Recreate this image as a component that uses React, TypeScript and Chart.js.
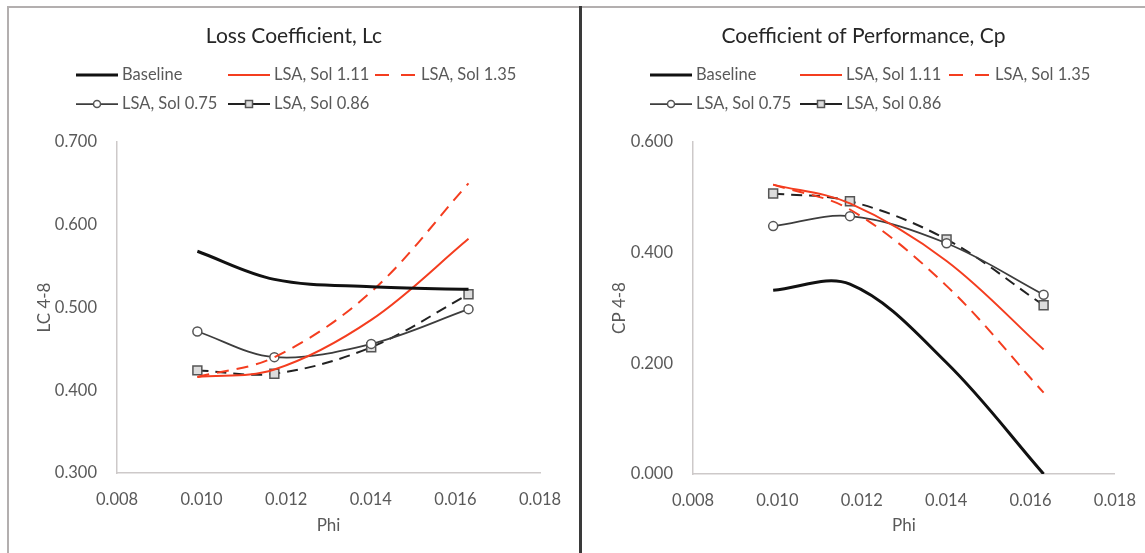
import React, { useEffect, useRef } from "react";
import { Chart, registerables } from "chart.js";

Chart.register(...registerables);

// ---------- data ----------
const phi = [0.0099, 0.01172, 0.01401, 0.01631];
const xTickValues = [0.008, 0.01, 0.012, 0.014, 0.016, 0.018];
const lcTickValues = [0.3, 0.4, 0.5, 0.6, 0.7];
const cpTickValues = [0.0, 0.2, 0.4, 0.6];

const seriesLabels = ["Baseline", "LSA, Sol 1.11", "LSA, Sol 1.35", "LSA, Sol 0.75", "LSA, Sol 0.86"];

const lcBaseline = [0.568, 0.534, 0.525, 0.522];
const lcSol111 = [0.416, 0.425, 0.485, 0.583];
const lcSol135 = [0.416, 0.44, 0.519, 0.65];
const lcSol075 = [0.471, 0.44, 0.456, 0.498];
const lcSol086 = [0.424, 0.42, 0.452, 0.516];

const cpBaseline = [0.332, 0.343, 0.201, 0.0];
const cpSol111 = [0.523, 0.489, 0.385, 0.225];
const cpSol135 = [0.523, 0.478, 0.34, 0.147];
const cpSol075 = [0.448, 0.466, 0.417, 0.324];
const cpSol086 = [0.507, 0.493, 0.424, 0.305];

// ---------- styles ----------
const FONT = "Lato, 'Open Sans', 'DejaVu Sans', sans-serif";
const TEXT = "#595959";
const AXIS = "#cdc9c9";
const RED = "#f43d1f";

const styles = [
  { borderColor: "#111111", borderWidth: 3, borderDash: [], pointRadius: 0, pointStyle: "circle", pointBackgroundColor: "#fff", pointBorderColor: "#111", pointBorderWidth: 1 },
  { borderColor: RED, borderWidth: 2, borderDash: [], pointRadius: 0, pointStyle: "circle", pointBackgroundColor: "#fff", pointBorderColor: RED, pointBorderWidth: 1 },
  { borderColor: RED, borderWidth: 2, borderDash: [12, 8], pointRadius: 0, pointStyle: "circle", pointBackgroundColor: "#fff", pointBorderColor: RED, pointBorderWidth: 1 },
  { borderColor: "#3d3d3d", borderWidth: 1.75, borderDash: [], pointRadius: 4.5, pointStyle: "circle", pointBackgroundColor: "#ffffff", pointBorderColor: "#555555", pointBorderWidth: 1.5 },
  { borderColor: "#222222", borderWidth: 2, borderDash: [11, 7], pointRadius: 6.3, pointStyle: "rect", pointBackgroundColor: "#dcdcdc", pointBorderColor: "#555555", pointBorderWidth: 1.5 },
];

const legendDash: Record<number, number[]> = { 2: [14, 12], 4: [] };

const gridLegend = {
  id: "gridLegend",
  afterDraw(chart: any, _args: any, opts: any) {
    const ctx = chart.ctx as CanvasRenderingContext2D;
    const items = opts.items || [];
    items.forEach((it: any) => {
      const ds = chart.data.datasets[it.index];
      ctx.save();
      ctx.strokeStyle = ds.borderColor;
      ctx.lineWidth = ds.borderWidth;
      ctx.setLineDash(legendDash[it.index] ?? ds.borderDash ?? []);
      ctx.beginPath();
      ctx.moveTo(it.x, it.y);
      ctx.lineTo(it.x + opts.sampleWidth, it.y);
      ctx.stroke();
      ctx.setLineDash([]);
      if (ds.pointRadius > 0) {
        const cx = it.x + opts.sampleWidth / 2;
        ctx.fillStyle = ds.pointBackgroundColor;
        ctx.strokeStyle = ds.pointBorderColor;
        ctx.lineWidth = ds.pointBorderWidth;
        if (ds.pointStyle === "rect") {
          const s = 3.5;
          ctx.fillRect(cx - s, it.y - s, 2 * s, 2 * s);
          ctx.strokeRect(cx - s, it.y - s, 2 * s, 2 * s);
        } else {
          ctx.beginPath();
          ctx.arc(cx, it.y, 3.5, 0, Math.PI * 2);
          ctx.fill();
          ctx.stroke();
        }
      }
      ctx.font = `16.5px ${FONT}`;
      ctx.fillStyle = TEXT;
      ctx.textBaseline = "middle";
      ctx.textAlign = "left";
      ctx.fillText(ds.label, it.x + opts.sampleWidth + 4, it.y);
      ctx.restore();
    });
  },
};

type PanelProps = {
  width: number;
  height: number;
  title: string;
  yTitle: string;
  series: number[][];
  yTicks: number[];
  yTitleOffset: number;
  padRight: number;
  yAxisWidth: number;
  xAxisHeight: number;
  legendCols: number[];
};

function Panel(p: PanelProps) {
  const ref = useRef<HTMLCanvasElement | null>(null);
  useEffect(() => {
    if (!ref.current) return;
    const datasets = p.series.map((vals, i) => ({
      label: seriesLabels[i],
      data: vals.map((v, j) => ({ x: phi[j], y: v })),
      tension: 0.35,
      fill: false,
      ...styles[i],
    }));
    const rows = [66, 95];
    const legendItems = [
      { index: 0, x: p.legendCols[0], y: rows[0] },
      { index: 1, x: p.legendCols[1], y: rows[0] },
      { index: 2, x: p.legendCols[2], y: rows[0] },
      { index: 3, x: p.legendCols[0], y: rows[1] },
      { index: 4, x: p.legendCols[1], y: rows[1] },
    ];
    const chart = new Chart(ref.current, {
      type: "line",
      data: { datasets } as any,
      plugins: [gridLegend as any],
      options: {
        responsive: false,
        animation: false,
        devicePixelRatio: 1,
        events: [],
        layout: { padding: { left: 0, right: 0, top: 0, bottom: 13 } },
        plugins: {
          legend: { display: false },
          tooltip: { enabled: false },
          title: {
            display: true,
            text: p.title,
            color: "#262626",
            font: { family: FONT, size: 21, weight: "normal", lineHeight: 1.2 },
            padding: { top: 14.4, bottom: 133 - 14.4 - 25.2 },
          },
          gridLegend: { items: legendItems, sampleWidth: 42 },
        } as any,
        scales: {
          x: {
            type: "linear",
            min: 0.008,
            max: 0.018,
            afterFit: (s: any) => { s.height = p.xAxisHeight; },
            afterBuildTicks: (s: any) => { s.ticks = xTickValues.map((v) => ({ value: v })); },
            ticks: {
              padding: 9,
              color: TEXT,
              font: { family: FONT, size: 16.5 },
              callback: (v: any) => Number(v).toFixed(3),
            },
            grid: { display: false },
            border: { display: true, color: AXIS, width: 1.5 },
            title: { display: true, text: "Phi", color: TEXT, font: { family: FONT, size: 17 } },
          },
          y: {
            type: "linear",
            position: "left",
            min: p.yTicks[0],
            max: p.yTicks[p.yTicks.length - 1],
            afterFit: (s: any) => { s.width = p.yAxisWidth; },
            afterBuildTicks: (s: any) => { s.ticks = p.yTicks.map((v) => ({ value: v })); },
            ticks: {
              padding: 12,
              color: TEXT,
              font: { family: FONT, size: 16.5 },
              callback: (v: any) => Number(v).toFixed(3),
            },
            grid: { display: false },
            border: { display: true, color: AXIS, width: 1.5 },
            title: {
              display: true,
              text: p.yTitle,
              color: TEXT,
              font: { family: FONT, size: 17 },
              padding: { top: p.yTitleOffset, bottom: 0 },
            },
          },
          // empty spacer on the right so the title stays centred on the whole panel
          spacer: {
            type: "linear",
            position: "right",
            display: true,
            afterFit: (s: any) => { s.width = p.padRight; },
            ticks: { display: false },
            grid: { display: false },
            border: { display: false },
          },
        },
      } as any,
    });
    return () => chart.destroy();
  }, []);
  return <canvas ref={ref} width={p.width} height={p.height} style={{ display: "block", width: p.width, height: p.height }} />;
}

export default function App() {
  return (
    <div style={{ position: "absolute", left: 0, top: 0, width: 1145, height: 553, background: "#fff", overflow: "hidden" }}>
      <div style={{ position: "absolute", left: 7, top: 6, width: 1138, height: 2, background: "#b3afaf" }} />
      <div style={{ position: "absolute", left: 7, top: 6, width: 2, height: 547, background: "#b3afaf" }} />
      <div style={{ position: "absolute", left: 579, top: 6, width: 3, height: 547, background: "#3a3a3a" }} />
      <div style={{ position: "absolute", left: 9, top: 9 }}>
        <Panel
          width={570}
          height={544}
          title="Loss Coefficient, Lc"
          yTitle="LC 4-8"
          series={[lcBaseline, lcSol111, lcSol135, lcSol075, lcSol086]}
          yTicks={lcTickValues}
          yTitleOffset={25}
          padRight={39}
          yAxisWidth={108}
          xAxisHeight={67}
          legendCols={[67, 219, 366]}
        />
      </div>
      <div style={{ position: "absolute", left: 582, top: 9 }}>
        <Panel
          width={563}
          height={544}
          title="Coefficient of Performance, Cp"
          yTitle="CP 4-8"
          series={[cpBaseline, cpSol111, cpSol135, cpSol075, cpSol086]}
          yTicks={cpTickValues}
          yTitleOffset={27}
          padRight={26}
          yAxisWidth={111}
          xAxisHeight={66}
          legendCols={[68, 218, 367]}
        />
      </div>
    </div>
  );
}
